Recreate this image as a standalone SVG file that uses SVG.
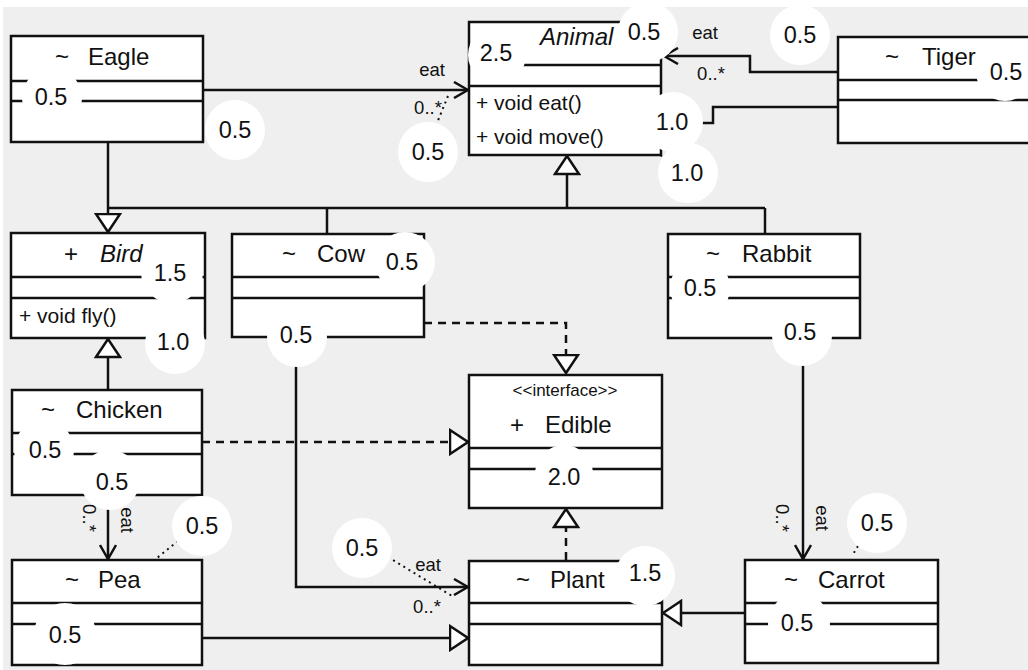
<svg xmlns="http://www.w3.org/2000/svg" width="1028" height="670" viewBox="0 0 1028 670">
<style>
.bg{fill:#efefef}
.box{fill:#fff;stroke:#111;stroke-width:2.5}
.ln{stroke:#111;stroke-width:2.5;fill:none}
.dash{stroke:#111;stroke-width:2.5;fill:none;stroke-dasharray:8 6}
.dot{stroke:#111;stroke-width:2;fill:none;stroke-dasharray:2 4}
.t{font-family:"Liberation Sans",Arial,sans-serif;fill:#111}
.name{font-size:24px}
.it{font-style:italic}
.m{font-size:21px}
.lbl{font-size:18.5px;text-anchor:middle}
.st{font-size:17px;text-anchor:middle}
.c{fill:#fff}
.num{font-size:23.5px;text-anchor:middle}
</style>
<defs>
<marker id="open" viewBox="0 0 16 18" refX="15" refY="9" markerWidth="16" markerHeight="18" markerUnits="userSpaceOnUse" orient="auto">
<path d="M1,1 L15,9 L1,17" fill="none" stroke="#111" stroke-width="2.5"/>
</marker>
<marker id="tri" viewBox="0 0 21 28" refX="19.5" refY="14" markerWidth="21" markerHeight="28" markerUnits="userSpaceOnUse" orient="auto">
<path d="M1.5,2 L19.5,14 L1.5,26 Z" fill="#fff" stroke="#111" stroke-width="2.5"/>
</marker>
</defs>
<rect x="0" y="0" width="1028" height="670" fill="#fff"/>
<rect class="bg" x="3" y="7" width="1025" height="663"/>

<g id="connectors">
<path class="ln" d="M567,208 V156" marker-end="url(#tri)"/>
<path class="ln" d="M108,208 H765"/>
<path class="ln" d="M108,142 V232" marker-end="url(#tri)"/>
<path class="ln" d="M327,208 V234"/>
<path class="ln" d="M765,208 V234"/>
<path class="ln" d="M108,390 V339" marker-end="url(#tri)"/>
<path class="dash" d="M202,442 H468" marker-end="url(#tri)"/>
<path class="dash" d="M424,323 H566 V373" marker-end="url(#tri)"/>
<path class="dash" d="M566,560 V509" marker-end="url(#tri)"/>
<path class="ln" d="M202,638 H468" marker-end="url(#tri)"/>
<path class="ln" d="M745,613 H663" marker-end="url(#tri)"/>
<path class="ln" d="M203,90 H468" marker-end="url(#open)"/>
<path class="ln" d="M838,72 H750 V56 H664" marker-end="url(#open)"/>
<path class="ln" d="M838,107 H713 V123 H690"/>
<path class="ln" d="M108,495 V559" marker-end="url(#open)"/>
<path class="ln" d="M803,338 V559" marker-end="url(#open)"/>
<path class="ln" d="M296,337 V587 H468" marker-end="url(#open)"/>
<path class="dot" d="M448,96 L437,123"/>
<path class="dot" d="M604,103 L645,107"/>
<path class="dot" d="M614,144 L662,156"/>
<path class="dot" d="M138,323 L152,325"/>
<path class="dot" d="M178,541 L157,558"/>
<path class="dot" d="M388,557 L452,596"/>
<path class="dot" d="M858,546 L852,556"/>
<text class="t lbl" x="432" y="76">eat</text>
<text class="t lbl" x="428" y="114">0..*</text>
<text class="t lbl" x="705" y="39">eat</text>
<text class="t lbl" x="711" y="80">0..*</text>
<text class="t lbl" x="428" y="571">eat</text>
<text class="t lbl" x="427" y="613">0..*</text>
<text class="t lbl" transform="translate(121,520) rotate(90)">eat</text>
<text class="t lbl" transform="translate(83,518) rotate(90)">0..*</text>
<text class="t lbl" transform="translate(816,518) rotate(90)">eat</text>
<text class="t lbl" transform="translate(776,518) rotate(90)">0..*</text>
</g>

<g id="Eagle">
<rect class="box" x="11" y="36" width="192" height="106"/>
<path class="ln" d="M11,81 H203 M11,101 H203"/>
<text class="t name" x="55" y="65">~</text>
<text class="t name" x="88" y="65">Eagle</text>
</g>

<g id="Animal">
<rect class="box" x="469" y="22" width="192" height="133"/>
<path class="ln" d="M469,65 H661 M469,86 H661"/>
<text class="t name it" x="540" y="45">Animal</text>
<text class="t m" x="476" y="110">+ void eat()</text>
<text class="t m" x="476" y="144">+ void move()</text>
</g>

<g id="Tiger">
<rect class="box" x="838" y="37" width="200" height="106"/>
<path class="ln" d="M838,80 H1038 M838,100 H1038"/>
<text class="t name" x="885" y="65">~</text>
<text class="t name" x="922" y="65">Tiger</text>
</g>

<g id="Bird">
<rect class="box" x="11" y="233" width="194" height="105"/>
<path class="ln" d="M11,277 H205 M11,298 H205"/>
<text class="t name" x="64" y="262">+</text>
<text class="t name it" x="100" y="262">Bird</text>
<text class="t m" x="19" y="323">+ void fly()</text>
</g>

<g id="Cow">
<rect class="box" x="232" y="234" width="192" height="103"/>
<path class="ln" d="M232,277 H424 M232,298 H424"/>
<text class="t name" x="282" y="262">~</text>
<text class="t name" x="317" y="262">Cow</text>
</g>

<g id="Rabbit">
<rect class="box" x="668" y="234" width="192" height="104"/>
<path class="ln" d="M668,277 H860 M668,298 H860"/>
<text class="t name" x="706" y="262">~</text>
<text class="t name" x="742" y="262">Rabbit</text>
</g>

<g id="Chicken">
<rect class="box" x="12" y="390" width="190" height="105"/>
<path class="ln" d="M12,433 H202 M12,454 H202"/>
<text class="t name" x="41" y="418">~</text>
<text class="t name" x="76" y="418">Chicken</text>
</g>

<g id="Edible">
<rect class="box" x="469" y="375" width="193" height="133"/>
<path class="ln" d="M469,448 H662 M469,469 H662"/>
<text class="t st" x="565" y="396">&lt;&lt;interface&gt;&gt;</text>
<text class="t name" x="510" y="433">+</text>
<text class="t name" x="545" y="433">Edible</text>
</g>

<g id="Pea">
<rect class="box" x="12" y="560" width="190" height="105"/>
<path class="ln" d="M12,603 H202 M12,624 H202"/>
<text class="t name" x="65" y="588">~</text>
<text class="t name" x="98" y="588">Pea</text>
</g>

<g id="Plant">
<rect class="box" x="469" y="561" width="193" height="104"/>
<path class="ln" d="M469,603 H662 M469,624 H662"/>
<text class="t name" x="516" y="588">~</text>
<text class="t name" x="550" y="588">Plant</text>
</g>

<g id="Carrot">
<rect class="box" x="745" y="560" width="193" height="103"/>
<path class="ln" d="M745,603 H938 M745,624 H938"/>
<text class="t name" x="784" y="588">~</text>
<text class="t name" x="818" y="588">Carrot</text>
</g>

<g id="scores">
<circle class="c" cx="52" cy="98" r="30"/><text class="t num" x="51" y="105">0.5</text>
<circle class="c" cx="235" cy="130" r="30"/><text class="t num" x="235" y="138">0.5</text>
<circle class="c" cx="497" cy="55" r="29"/><text class="t num" x="496" y="61">2.5</text>
<circle class="c" cx="648" cy="32" r="30"/><text class="t num" x="644" y="40">0.5</text>
<circle class="c" cx="428" cy="152" r="30"/><text class="t num" x="428" y="160">0.5</text>
<circle class="c" cx="673" cy="122" r="30"/><text class="t num" x="672" y="130">1.0</text>
<circle class="c" cx="688" cy="173" r="30"/><text class="t num" x="687" y="181">1.0</text>
<circle class="c" cx="800" cy="35" r="30"/><text class="t num" x="800" y="43">0.5</text>
<circle class="c" cx="1005" cy="72" r="29"/><text class="t num" x="1006" y="80">0.5</text>
<circle class="c" cx="172" cy="272" r="31"/><text class="t num" x="170" y="281">1.5</text>
<circle class="c" cx="175" cy="344" r="30"/><text class="t num" x="173" y="350">1.0</text>
<circle class="c" cx="405" cy="262" r="30"/><text class="t num" x="402" y="270">0.5</text>
<circle class="c" cx="297" cy="337" r="30"/><text class="t num" x="296" y="343">0.5</text>
<circle class="c" cx="700" cy="288" r="30"/><text class="t num" x="700" y="296">0.5</text>
<circle class="c" cx="802" cy="336" r="30"/><text class="t num" x="800" y="340">0.5</text>
<circle class="c" cx="44" cy="450" r="30"/><text class="t num" x="45" y="458">0.5</text>
<circle class="c" cx="110" cy="480" r="30"/><text class="t num" x="112" y="490">0.5</text>
<circle class="c" cx="202" cy="526" r="30"/><text class="t num" x="202" y="534">0.5</text>
<circle class="c" cx="65" cy="634" r="31"/><text class="t num" x="65" y="643">0.5</text>
<circle class="c" cx="564" cy="474" r="29"/><text class="t num" x="564" y="485">2.0</text>
<circle class="c" cx="362" cy="548" r="30"/><text class="t num" x="362" y="556">0.5</text>
<circle class="c" cx="645" cy="576" r="30"/><text class="t num" x="645" y="581">1.5</text>
<circle class="c" cx="877" cy="523" r="30"/><text class="t num" x="877" y="531">0.5</text>
<circle class="c" cx="799" cy="624" r="31"/><text class="t num" x="797" y="631">0.5</text>
</g>
</svg>
